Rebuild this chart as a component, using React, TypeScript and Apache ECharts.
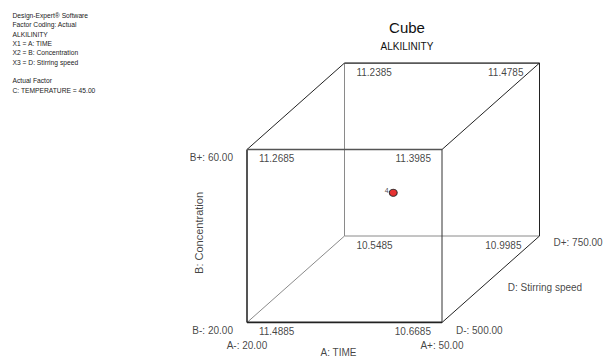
import React, { useEffect, useRef } from "react";
import * as echarts from "echarts";

// ---- data ----
const aLevels = [20, 50]; // A: TIME
const bLevels = [20, 60]; // B: Concentration
const dLevels = [500, 750]; // D: Stirring speed
// responses at cube corners (a index, b index, d index)
const cornerA = [0, 1, 0, 1, 0, 1, 0, 1];
const cornerB = [0, 0, 1, 1, 0, 0, 1, 1];
const cornerD = [0, 0, 0, 0, 1, 1, 1, 1];
const cornerValues = ["11.4885", "10.6685", "11.2685", "11.3985", "10.5485", "10.9985", "11.2385", "11.4785"];
const aTickLabels = ["A-: 20.00", "A+: 50.00"];
const bTickLabels = ["B-: 20.00", "B+: 60.00"];
const dTickLabels = ["D-: 500.00", "D+: 750.00"];
const centerPoint = { a: 35, b: 40, d: 625, runs: "4" };
const infoLines = [
  "Design-Expert\u00ae Software",
  "Factor Coding: Actual",
  "ALKILINITY",
  "X1 = A: TIME",
  "X2 = B: Concentration",
  "X3 = D: Stirring speed",
  "",
  "Actual Factor",
  "C: TEMPERATURE = 45.00",
];

const FONT = "'Liberation Sans', Arial, sans-serif";
const DEPTH = 0.5;

function proj(a: number, b: number, d: number): [number, number] {
  const an = (a - aLevels[0]) / (aLevels[1] - aLevels[0]);
  const bn = (b - bLevels[0]) / (bLevels[1] - bLevels[0]);
  const dn = (d - dLevels[0]) / (dLevels[1] - dLevels[0]);
  return [an + DEPTH * dn, bn + DEPTH * dn];
}
function corner(ai: number, bi: number, di: number) {
  return proj(aLevels[ai], bLevels[bi], dLevels[di]);
}

export default function App() {
  const ref = useRef<HTMLDivElement>(null);
  useEffect(() => {
    if (!ref.current) return;
    const chart = echarts.init(ref.current, undefined, { renderer: "svg" });

    const edges: [number[], number[], number, string][] = [
      [[0, 0, 1], [1, 0, 1], 1, "#8a8a8a"],
      [[0, 0, 1], [0, 1, 1], 1, "#8a8a8a"],
      [[0, 0, 0], [0, 0, 1], 1, "#8a8a8a"],
      [[0, 1, 1], [1, 1, 1], 1.5, "#222"],
      [[1, 0, 1], [1, 1, 1], 1, "#222"],
      [[0, 1, 0], [0, 1, 1], 1, "#222"],
      [[1, 1, 0], [1, 1, 1], 1, "#222"],
      [[1, 0, 0], [1, 0, 1], 1, "#222"],
      [[0, 1, 0], [1, 1, 0], 1.5, "#555"],
      [[1, 0, 0], [1, 1, 0], 1, "#333"],
      [[0, 0, 0], [0, 1, 0], 2, "#555"],
      [[0, 0, 0], [1, 0, 0], 2, "#222"],
    ];
    const edgeSeries = edges.map((e) => ({
      type: "line",
      silent: true,
      symbol: "none",
      data: [corner(e[0][0], e[0][1], e[0][2]), corner(e[1][0], e[1][1], e[1][2])],
      lineStyle: { width: e[2], color: e[3] },
      z: 2,
    }));

    const labelBase = {
      show: true,
      color: "#111",
      fontFamily: FONT,
      fontSize: 10,
      verticalAlign: "middle",
    };

    const cornerData = cornerValues.map((v, i) => {
      const ai = cornerA[i];
      const right = ai === 1;
      const back = cornerD[i] === 1;
      const dx = right ? (back ? (cornerB[i] === 1 ? -16 : -18) : -11) : 12;
      return {
        value: corner(ai, cornerB[i], cornerD[i]),
        label: { ...labelBase, formatter: v, position: [dx, 9.5], align: right ? "right" : "left" },
      };
    });

    const tickData = [
      { value: corner(0, 0, 0), label: { ...labelBase, formatter: aTickLabels[0], position: [0, 23], align: "center" } },
      { value: corner(1, 0, 0), label: { ...labelBase, formatter: aTickLabels[1], position: [0, 23], align: "center" } },
      { value: corner(0, 0, 0), label: { ...labelBase, formatter: bTickLabels[0], position: [-14, 8], align: "right" } },
      { value: corner(0, 1, 0), label: { ...labelBase, formatter: bTickLabels[1], position: [-14, 8], align: "right" } },
      { value: corner(1, 0, 0), label: { ...labelBase, formatter: dTickLabels[0], position: [14, 8], align: "left" } },
      { value: corner(1, 0, 1), label: { ...labelBase, formatter: dTickLabels[1], position: [14, 7], align: "left" } },
      {
        value: proj((aLevels[0] + aLevels[1]) / 2, bLevels[0], dLevels[0]),
        label: { ...labelBase, formatter: "A: TIME", position: [-6, 30], align: "center" },
      },
      {
        value: proj(aLevels[0], (bLevels[0] + bLevels[1]) / 2, dLevels[0]),
        label: { ...labelBase, formatter: "B: Concentration", position: [-48, -3], align: "center", rotate: 90, fontSize: 11 },
      },
      {
        value: proj(aLevels[1], bLevels[0], (dLevels[0] + dLevels[1]) / 2),
        label: { ...labelBase, formatter: "D: Stirring speed", position: [17, 8], align: "left" },
      },
    ];

    chart.setOption({
      animation: false,
      backgroundColor: "#fff",
      title: {
        text: "Cube",
        subtext: "ALKILINITY",
        left: 402,
        top: 15,
        textAlign: "center",
        itemGap: 6,
        textStyle: { fontFamily: FONT, fontSize: 15, fontWeight: "normal", color: "#111" },
        subtextStyle: { fontFamily: FONT, fontSize: 10, color: "#111" },
      },
      graphic: [
        {
          type: "text",
          x: 12.5,
          y: 11,
          style: {
            text: infoLines.join("\n"),
            fontFamily: FONT,
            fontSize: 6.7,
            lineHeight: 9.3,
            fill: "#222",
            verticalAlign: "top",
          },
        },
      ],
      grid: { left: 247, top: 63, width: 292.5, height: 259.5, outerBoundsMode: "none", containLabel: false },
      xAxis: { type: "value", min: 0, max: 1 + DEPTH, show: false },
      yAxis: { type: "value", min: 0, max: 1 + DEPTH, show: false },
      series: [
        ...edgeSeries,
        {
          type: "scatter",
          silent: true,
          symbolSize: 0.1,
          itemStyle: { color: "transparent" },
          data: [...cornerData, ...tickData],
          z: 3,
        },
        {
          type: "scatter",
          silent: true,
          symbol: "circle",
          symbolSize: [8, 7],
          itemStyle: { color: "#e00000", borderColor: "#111", borderWidth: 1 },
          data: [proj(centerPoint.a, centerPoint.b, centerPoint.d)],
          label: {
            show: true,
            formatter: centerPoint.runs,
            position: [0, 2],
            align: "right",
            verticalAlign: "middle",
            fontSize: 7,
            fontFamily: FONT,
            color: "#222",
          },
          z: 4,
        },
      ],
    });
    return () => chart.dispose();
  }, []);
  return <div ref={ref} style={{ position: "fixed", left: 0, top: 0, width: 603, height: 360 }} />;
}
